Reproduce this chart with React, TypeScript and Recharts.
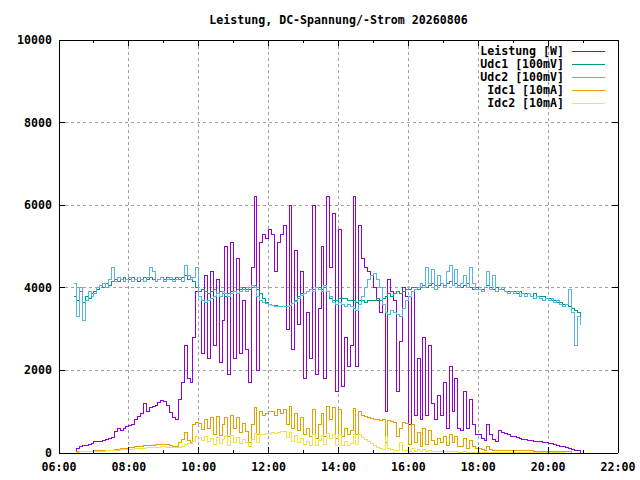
import { LineChart, Line, XAxis, YAxis, CartesianGrid, ReferenceLine, Legend } from 'recharts'

const FONT = '"DejaVu Sans Mono", "Liberation Mono", monospace'
const FONT_SIZE = 11.6
const PLOT_W = 559
const PLOT_H = 413

const title = 'Leistung, DC-Spannung/-Strom 20260806'

// samples every 5 minutes, first one at 06:25, last one at 21:00
const START_MIN = 6 * 60 + 25
const STEP_MIN = 5

const hourTicks = [6, 7, 8, 9, 10, 11, 12, 13, 14, 15, 16, 17, 18, 19, 20, 21, 22]
const gridHours = [8, 10, 12, 14, 16, 18, 20]
const valueTicks = [0, 2000, 4000, 6000, 8000, 10000]
const gridValues = [2000, 4000, 6000, 8000]

const seriesKeys = ['leistung', 'udc1', 'udc2', 'idc1', 'idc2']
const seriesNames = ['Leistung [W]', 'Udc1 [100mV]', 'Udc2 [100mV]', 'Idc1 [10mA]', 'Idc2 [10mA]']
const seriesColors = ['#9400d3', '#009e73', '#56b4e9', '#e69f00', '#f0e442']

const leistung = [
  0, 120, 160, 170, 180, 200, 230,
  270, 280, 290, 300, 320, 340, 380, 520, 600, 540, 600, 640,
  660, 700, 800, 880, 960, 1190, 1000, 1090, 1120, 1160, 1220, 1270,
  1250, 1150, 980, 850, 820, 1300, 1700, 2600, 1800, 1700, 2800, 3900,
  3800, 2400, 4300, 2300, 4400, 2600, 4200, 2200, 3200, 5000, 1900, 5100,
  2300, 4700, 2400, 3700, 2500, 1700, 4500, 6200, 2000, 5100, 5300, 5200,
  5400, 5300, 4400, 5100, 5300, 5500, 3000, 6000, 2500, 4900, 3100, 4400,
  1800, 3400, 2300, 6000, 1900, 3500, 5000, 1800, 6200, 4500, 5800, 1500,
  5400, 1600, 2800, 2100, 2600, 6200, 2100, 5500, 4700, 4500, 4400, 4300,
  4000, 3700, 3400, 3600, 1000, 4200, 3900, 3700, 1500, 2700, 4000, 3800,
  700, 3900, 900, 2300, 800, 2800, 900, 2600, 1200, 800, 1400, 900,
  1700, 600, 2100, 1000, 1800, 600, 550, 1500, 600, 1300, 700, 450,
  450, 350, 300, 700, 450, 330, 280, 550, 500, 470, 440, 410,
  390, 370, 350, 330, 320, 310, 300, 290, 280, 270, 260, 250,
  240, 220, 200, 180, 160, 150, 130, 110, 90, 70, 50, 0,
  null,
]

const udc1 = [
  3800, 3700, 3900, 3650, 3800, 3750, 3850,
  3900, 3950, 4050, 4000, 4100, 4050, 4150, 4200, 4150, 4200, 4250, 4200,
  4200, 4250, 4200, 4150, 4200, 4250, 4200, 4250, 4200, 4150, 4200, 4250,
  4200, 4250, 4200, 4200, 4250, 4200, 4250, 4300, 4200, 4250, 4150, 4000,
  3900, 3950, 3900, 3850, 3900, 3950, 3850, 3900, 3850, 3800, 3850, 3900,
  3900, 3950, 3950, 4000, 3950, 3950, 4000, 4050, 3950, 3850, 3750, 3650,
  3600, 3580, 3560, 3550, 3550, 3550, 3550, 3580, 3620, 3700, 3780, 3850,
  3850, 3900, 3950, 3950, 4000, 4000, 3950, 4000, 3900, 3750, 3700, 3700,
  3750, 3750, 3750, 3700, 3700, 3700, 3650, 3700, 3700, 3650, 3700, 3700,
  3700, 3750, 3700, 3750, 3800, 3850, 3800, 3850, 3900, 3850, 3900, 3950,
  3950, 4000, 4000, 3950, 4000, 4050, 4000, 4050, 4100, 4050, 4050, 4100,
  4050, 4100, 4150, 4050, 4100, 4050, 4000, 4050, 4100, 4000, 3950, 4000,
  3950, 3950, 4000, 4050, 4000, 3950, 4000, 3950, 3950, 3900, 3900, 3900,
  3900, 3850, 3900, 3850, 3850, 3850, 3800, 3850, 3800, 3800, 3800, 3750,
  3750, 3700, 3700, 3650, 3650, 3600, 3600, 3550, 3500, 3450, 3400, 3250,
  null,
]

const udc2 = [
  4100, 3300, 4000, 3200, 3700, 3900, 3800,
  3850, 4000, 4050, 4100, 4000, 4200, 4500, 4150, 4250, 4200, 4150, 4200,
  4250, 4150, 4200, 4250, 4200, 4150, 4250, 4500, 4400, 4150, 4200, 4250,
  4150, 4200, 4250, 4150, 4200, 4250, 4150, 4550, 4300, 4200, 4250, 4500,
  3800, 3700, 3650, 3700, 3750, 3800, 3850, 3800, 3900, 3850, 3800, 3850,
  3900, 3850, 3900, 3950, 3900, 4000, 4050, 4000, 3800, 3700, 3650, 3620,
  3600, 3570, 3550, 3540, 3550, 3540, 3550, 3580, 3620, 3680, 3750, 3820,
  3850, 3900, 3950, 3900, 4000, 3950, 3900, 4050, 3900, 3800, 3650, 3600,
  3650, 3600, 3550, 3600, 3550, 3500, 3450, 3600, 3800, 4000, 4200, 4300,
  4350, 4200, 4000, 3600, 3400, 3350, 3450, 3400, 3350, 3300, 3500, 3700,
  3800, 3900, 3950, 4000, 4100, 4000, 4500, 4100, 4450, 3950, 4300, 4100,
  4000, 4400, 4550, 4050, 4450, 4000, 4100, 4300, 4000, 4500, 4100, 3950,
  3950, 3900, 4000, 4400, 3950, 4300, 3900, 3950, 4000, 3900, 3850, 3900,
  3850, 3900, 3800, 3850, 3800, 3850, 3800, 3750, 3800, 3750, 3700, 3750,
  3700, 3750, 3650, 3700, 3600, 3550, 3600, 3950, 3400, 2600, 3300, 3100,
  null,
]

const idc1 = [
  0, 30, 30, 35, 40, 40, 45,
  50, 55, 55, 60, 60, 65, 70, 80, 90, 100, 110, 120,
  130, 140, 150, 150, 160, 170, 180, 190, 190, 200, 210, 200,
  210, 200, 180, 160, 150, 250, 320, 500, 300, 260, 700, 750,
  720, 560, 800, 600, 850, 450, 880, 420, 700, 850, 400, 900,
  600, 850, 500, 720, 520, 250, 700, 1090, 450, 1000, 900, 950,
  1000, 1000, 900, 1050, 950, 1060, 700, 1130, 600, 950, 550, 850,
  450, 600, 400, 1050, 350, 700, 950, 400, 1130, 800, 1100, 350,
  1050, 400, 600, 450, 550, 1080, 450, 1000, 900, 880, 860, 840,
  820, 800, 790, 800, 250, 780, 760, 740, 400, 600, 750, 720,
  200, 700, 250, 500, 150, 600, 200, 550, 300, 200, 350, 250,
  400, 180, 450, 250, 400, 150, 150, 350, 120, 300, 150, 100,
  100, 90, 70, 150, 80, 60, 60, 60, 60, 55, 55, 55,
  55, 55, 50, 50, 50, 50, 50, 45, 45, 45, 45, 45,
  40, 40, 40, 40, 40, 40, 40, 30, 0, null, null, null,
  null,
]

const idc2 = [
  0, 20, 25, 25, 30, 30, 35,
  40, 40, 45, 45, 50, 55, 60, 65, 70, 75, 80, 85,
  90, 95, 100, 105, 110, 120, 125, 130, 135, 140, 145, 150,
  150, 145, 140, 135, 130, 130, 150, 200, 220, 240, 280, 400,
  380, 300, 400, 280, 350, 200, 380, 220, 320, 400, 180, 420,
  250, 380, 220, 330, 250, 150, 330, 480, 250, 440, 460, 470,
  480, 490, 480, 500, 510, 520, 380, 500, 280, 420, 260, 350,
  200, 280, 180, 460, 170, 300, 420, 200, 480, 350, 450, 180,
  450, 180, 280, 180, 220, 460, 200, 440, 380, 330, 280, 220,
  180, 140, 100, 90, 400, 120, 90, 70, 60, 250, 60, 50,
  40, 100, 40, 80, 35, 90, 35, 60, 35, 30, 40, 30,
  35, 25, 30, 25, 30, 20, 20, 25, 20, 20, 20, 15,
  15, 15, 15, 20, 15, 10, 10, 10, 10, 10, 10, 10,
  10, 10, 10, 10, 10, 10, 10, 10, 10, 10, 10, 10,
  10, 10, 10, 10, 5, 5, 0, null, null, null, null, null,
  null,
]

const data = leistung.map((p, i) => ({
  t: (START_MIN + i * STEP_MIN) / 60,
  leistung: p,
  udc1: udc1[i],
  udc2: udc2[i],
  idc1: idc1[i],
  idc2: idc2[i],
}))

const textStyle = {
  fontFamily: FONT,
  fontWeight: 'bold' as const,
  fontSize: FONT_SIZE,
  fill: '#000',
}

function HourTick(props: any) {
  const { x, y, payload } = props
  const h = payload.value as number
  const major = h % 2 === 0
  const len = major ? 6 : 3
  return (
    <g>
      <line x1={x} y1={y} x2={x} y2={y - len} stroke="#000" shapeRendering="crispEdges" />
      <line x1={x} y1={y - PLOT_H} x2={x} y2={y - PLOT_H + len} stroke="#000" shapeRendering="crispEdges" />
      {major ? (
        <text x={x} y={y + 18} textAnchor="middle" {...textStyle}>
          {`${String(h).padStart(2, '0')}:00`}
        </text>
      ) : null}
    </g>
  )
}

function ValueTick(props: any) {
  const { x, y, payload } = props
  return (
    <g>
      <line x1={x} y1={y} x2={x + 6} y2={y} stroke="#000" shapeRendering="crispEdges" />
      <line x1={x + PLOT_W} y1={y} x2={x + PLOT_W - 6} y2={y} stroke="#000" shapeRendering="crispEdges" />
      <text x={x - 7} y={y + 4} textAnchor="end" {...textStyle}>
        {payload.value}
      </text>
    </g>
  )
}

function KeyBox() {
  return (
    <svg width={145} height={66}>
      {seriesNames.map((name, i) => (
        <g key={name}>
          <text x={94} y={11 + i * 13} textAnchor="end" {...textStyle}>
            {name}
          </text>
          <line
            x1={102}
            x2={135}
            y1={7.5 + i * 13}
            y2={7.5 + i * 13}
            stroke={seriesColors[i]}
            strokeWidth={1}
          />
        </g>
      ))}
    </svg>
  )
}

export default function App() {
  return (
    <div style={{ position: 'absolute', left: 0, top: 0, width: 640, height: 480, background: '#fff' }}>
      <div
        style={{
          position: 'absolute',
          left: 59,
          top: 13,
          width: PLOT_W,
          textAlign: 'center',
          fontFamily: FONT,
          fontWeight: 'bold',
          fontSize: FONT_SIZE,
          lineHeight: '14px',
          whiteSpace: 'pre',
        }}
      >
        {title}
      </div>
      <LineChart width={640} height={480} data={data} margin={{ top: 40, right: 22, bottom: 0, left: 0 }}>
        <CartesianGrid
          stroke="#a0a0a0"
          strokeDasharray="3 3"
          verticalValues={gridHours}
          horizontalValues={gridValues}
          shapeRendering="crispEdges"
        />
        <XAxis
          dataKey="t"
          type="number"
          domain={[6, 22]}
          ticks={hourTicks}
          interval={0}
          height={27}
          tickSize={0}
          tickMargin={0}
          tickLine={false}
          axisLine={{ stroke: '#000', shapeRendering: 'crispEdges' }}
          tick={<HourTick />}
          allowDataOverflow
        />
        <YAxis
          type="number"
          domain={[0, 10000]}
          ticks={valueTicks}
          interval={0}
          width={59}
          tickSize={0}
          tickMargin={0}
          tickLine={false}
          axisLine={{ stroke: '#000', shapeRendering: 'crispEdges' }}
          tick={<ValueTick />}
          allowDataOverflow
        />
        <ReferenceLine y={10000} stroke="#000" shapeRendering="crispEdges" />
        <ReferenceLine x={22} stroke="#000" shapeRendering="crispEdges" />
        {seriesKeys.map((key, i) => (
          <Line
            key={key}
            dataKey={key}
            name={seriesNames[i]}
            type="stepAfter"
            stroke={seriesColors[i]}
            strokeWidth={1}
            dot={false}
            activeDot={false}
            connectNulls={false}
            isAnimationActive={false}
            shapeRendering="crispEdges"
          />
        ))}
        <Legend
          layout="vertical"
          align="center"
          verticalAlign="middle"
          wrapperStyle={{ position: 'absolute', left: 470, top: 44, width: 145, height: 66 }}
          content={() => <KeyBox />}
        />
      </LineChart>
    </div>
  )
}
